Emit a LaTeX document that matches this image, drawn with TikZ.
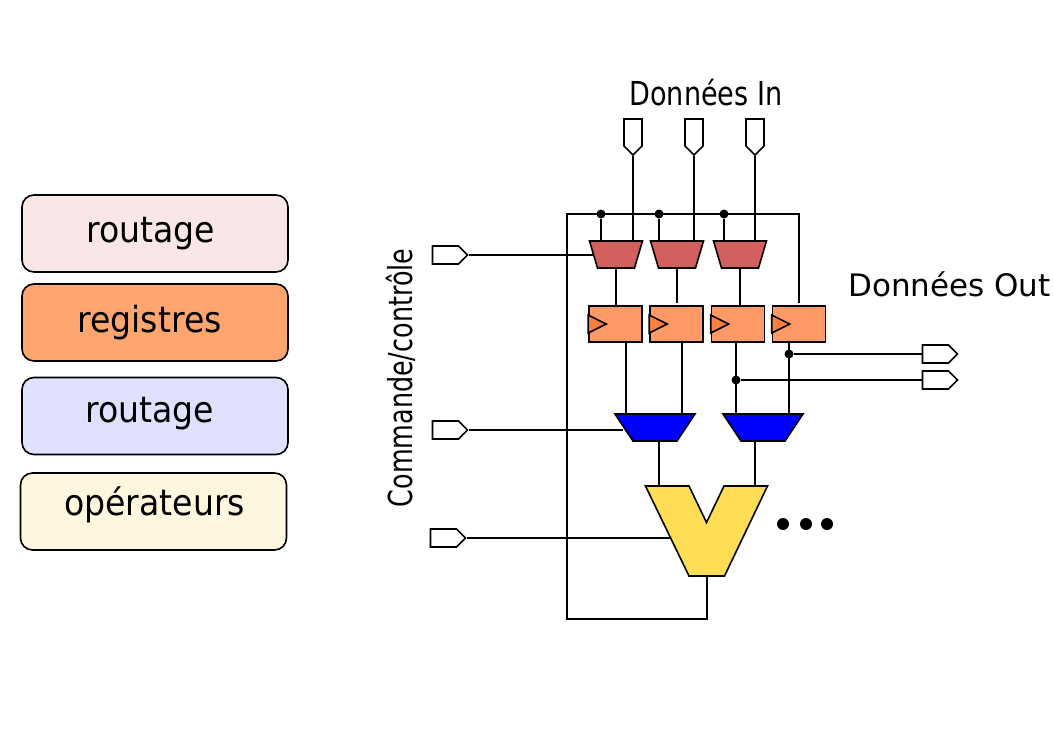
\documentclass[tikz,border=0pt]{standalone}
\usepackage{fontspec}
\setmainfont{DejaVu Sans}
\usetikzlibrary{shapes.geometric,shapes.symbols}
\definecolor{routeRed}{HTML}{D35F5F}
\definecolor{regOrange}{HTML}{FF9966}
\definecolor{clkOrange}{HTML}{FF7F3F}
\definecolor{aluYellow}{HTML}{FFDD55}
\definecolor{keyRed}{HTML}{F9E6E6}
\definecolor{keyOrange}{HTML}{FFA66E}
\definecolor{keyBlue}{HTML}{E0E0FF}
\definecolor{keyYellow}{HTML}{FFF6E0}
\tikzset{
  wire/.style={line width=1.6pt},
  keybox/.style={draw,line width=1.6pt,rounded corners=12pt,minimum width=266pt,minimum height=77pt,inner sep=0pt},
  keytext/.style={font=\fontsize{36}{36}\selectfont,xscale=.92,transform shape,inner sep=0pt},
  muxred/.style={draw,line width=1.6pt,fill=routeRed,trapezium,shape border rotate=180,trapezium angle=73.5,inner ysep=13.5pt,inner xsep=18.5pt},
  muxblue/.style={draw,line width=1.6pt,fill=blue,trapezium,shape border rotate=180,trapezium angle=56.3,inner ysep=13.5pt,inner xsep=22pt},
  regbox/.style={draw,line width=1.6pt,fill=regOrange,minimum width=53pt,minimum height=36pt,inner sep=0pt},
  pinright/.style={draw,line width=1.6pt,fill=white,signal,signal to=east,signal pointer angle=90,minimum width=35pt,minimum height=18pt,inner sep=0pt},
  pindown/.style={draw,line width=1.6pt,fill=white,signal,signal to=south,signal pointer angle=90,minimum width=18pt,minimum height=27pt,inner sep=0pt},
  dot/.style={circle,fill=black,minimum size=9pt,inner sep=0pt},
  bigdot/.style={circle,fill=black,minimum size=12pt,inner sep=0pt}
}
\begin{document}
\begin{tikzpicture}[x=1pt,y=-1pt]
\useasboundingbox (0,0) rectangle (1053,745);
%% legend
\node[keybox,fill=keyRed] (keyA) at (155,233.5) {};
\node[keybox,fill=keyOrange] (keyB) at (155,322.5) {};
\node[keybox,fill=keyBlue] (keyC) at (155,416) {};
\node[keybox,fill=keyYellow] (keyD) at (153.5,511.5) {};
\node[keytext] (txtA) at (150.5,234) {routage};
\node[keytext] (txtB) at (149.5,323) {registres};
\node[keytext] (txtC) at (149.5,414) {routage};
\node[keytext] (txtD) at (154.5,505) {opérateurs};
%% titles
\node[font=\fontsize{33}{33}\selectfont,xscale=.82,transform shape,inner sep=0pt] (txtIn) at (706,93) {Données In};
\node[font=\fontsize{31}{31}\selectfont,inner sep=0pt] (txtOut) at (949.5,284) {Données Out};
\node[font=\fontsize{33}{33}\selectfont,rotate=90,xscale=.77,transform shape,inner sep=0pt] (txtCtl) at (400.5,378) {Commande/contrôle};
%% pins
\node[pindown] (pinInA) at (633,132.5) {};
\node[pindown] (pinInB) at (694,132.5) {};
\node[pindown] (pinInC) at (755,132.5) {};
\node[pinright] (pinCtlA) at (445.5,255) {};
\node[pinright] (pinCtlB) at (445.5,430) {};
\node[pinright] (pinCtlC) at (443.5,538) {};
\node[pinright] (pinOutA) at (935.5,354) {};
\node[pinright] (pinOutB) at (935.5,380) {};
%% routing and registers
\node[muxred] (muxA) at (616,254.5) {};
\node[muxred] (muxB) at (677,254.5) {};
\node[muxred] (muxC) at (740,254.5) {};
\node[regbox] (regA) at (615.5,324) {};
\node[regbox] (regB) at (676.5,324) {};
\node[regbox] (regC) at (738,324) {};
\node[regbox] (regD) at (799,324) {};
\node[muxblue] (blueA) at (655,427.5) {};
\node[muxblue] (blueB) at (763,427.5) {};
\foreach \r in {regA,regB,regC,regD}
  \draw[line width=1.6pt,fill=clkOrange] (\r.west) ++(0,-9) -- ++(18,9) -- ++(-18,9) -- cycle;
%% operator
\coordinate (aluA) at (659,486);
\coordinate (aluB) at (755,486);
\coordinate (aluOut) at (707,576);
\coordinate (aluCtl) at (670,538);
\draw[line width=1.6pt,fill=aluYellow,line join=miter] (645.5,486) -- (689,486) -- (706.5,522.5) -- (724,486) -- (767.5,486) -- (724.5,576) -- (689,576) -- cycle;
%% bus
\coordinate (busNW) at (567,214);
\coordinate (busNE) at (799,214);
\coordinate (loopSW) at (567,619);
\coordinate (loopSE) at (707,619);
\node[dot] (busA) at (601,214) {};
\node[dot] (busB) at (659,214) {};
\node[dot] (busC) at (724,214) {};
\node[dot] (tapD) at (789,354) {};
\node[dot] (tapC) at (736,380) {};
\draw[wire] (aluOut) -- (loopSE) -- (loopSW) -- (busNW) -- (busNE) -- ([yshift=2pt]regD.north);
\draw[wire] (busA) -- (busA |- muxA.north);
\draw[wire] (busB) -- (busB |- muxB.north);
\draw[wire] (busC) -- (busC |- muxC.north);
%% wires
\draw[wire] (pinInA.south) -- (pinInA.south |- muxA.north);
\draw[wire] (pinInB.south) -- (pinInB.south |- muxB.north);
\draw[wire] (pinInC.south) -- (pinInC.south |- muxC.north);
\draw[wire] (muxA.south) -- (muxA.south |- regA.north);
\draw[wire] (muxB.south) -- ([yshift=2pt]muxB.south |- regB.north);
\draw[wire] (muxC.south) -- (muxC.south |- regC.north);
\draw[wire] ([xshift=10.5pt]regA.south) -- ([xshift=10.5pt]regA.south |- blueA.north);
\draw[wire] ([xshift=5.5pt]regB.south) -- ([xshift=5.5pt]regB.south |- blueA.north);
\draw[wire] (tapC |- regC.south) -- (tapC |- blueB.north);
\draw[wire] (tapD |- regD.south) -- (tapD |- blueB.north);
\draw[wire] (tapD) -- (pinOutA.west);
\draw[wire] (tapC) -- (pinOutB.west);
\draw[wire] (aluA |- blueA.south) -- (aluA);
\draw[wire] (aluB |- blueB.south) -- (aluB);
\draw[wire] (pinCtlA.east) -- (pinCtlA.east -| muxA.west);
\draw[wire] (pinCtlB.east) -- (pinCtlB.east -| blueA.west);
\draw[wire] (pinCtlC.east) -- (aluCtl);
%% continuation
\node[bigdot] (moreA) at (783,524) {};
\node[bigdot] (moreB) at (806,524) {};
\node[bigdot] (moreC) at (827,524) {};
\end{tikzpicture}
\end{document}
